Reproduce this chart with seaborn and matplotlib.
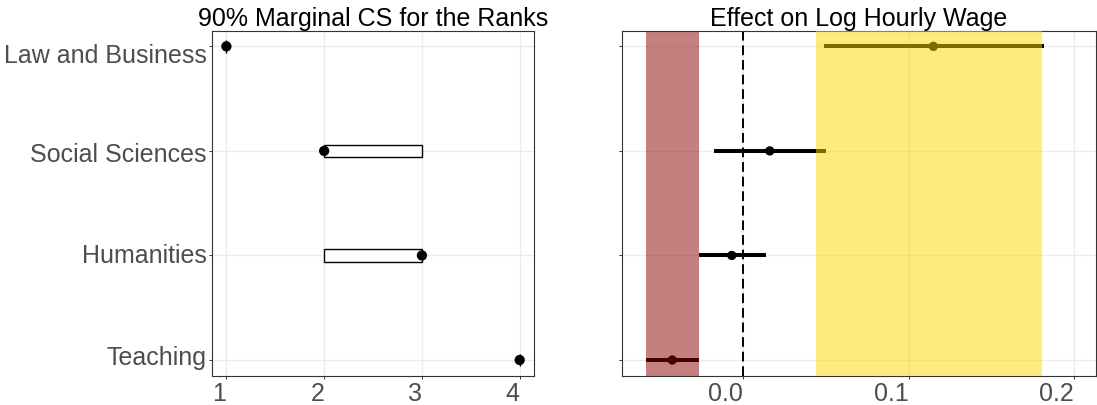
import matplotlib
matplotlib.use("Agg")
import matplotlib.pyplot as plt
import matplotlib.transforms as mtransforms
import pandas as pd
import seaborn as sns

# Fields, top to bottom
fields = ["Law and Business", "Social Sciences", "Humanities", "Teaching"]

# Estimated rank and 90% marginal confidence set for the rank
rank_point = [1, 2, 3, 4]
rank_lower = [1, 2, 2, 4]
rank_upper = [1, 3, 3, 4]

# Estimated effect on log hourly wage with its confidence interval
effect = [0.115, 0.016, -0.007, -0.043]
effect_lower = [0.049, -0.018, -0.027, -0.059]
effect_upper = [0.182, 0.050, 0.014, -0.027]

# Shaded regions: lowest-ranked and highest-ranked sets
bottom_band = [-0.059, -0.027]
top_band = [0.044, 0.181]

rank_ticks = [1, 2, 3, 4]
effect_ticks = [0.0, 0.1, 0.2]
effect_tick_labels = ["0.0", "0.1", "0.2"]

sns.set_theme(style="whitegrid")
plt.rcParams["font.family"] = ["Liberation Sans", "DejaVu Sans"]

df = pd.DataFrame({
    "field": fields,
    "row": list(range(len(fields), 0, -1)),
    "rank": rank_point,
    "rank_lo": rank_lower,
    "rank_hi": rank_upper,
    "effect": effect,
    "lo": effect_lower,
    "hi": effect_upper,
})

GRID = "#EBEBEB"
FRAME = "#333333"
TICKTXT = "#4D4D4D"
FS = 18

fig = plt.figure(figsize=(10.97, 4.06), dpi=100)
ax_l = fig.add_axes([0.193, 0.0722, 0.2941, 0.8498])
ax_r = fig.add_axes([0.5667, 0.0722, 0.4324, 0.8498])


def style_axes(ax):
    ax.set_facecolor("white")
    ax.grid(True, color=GRID, lw=1.0)
    ax.set_axisbelow(True)
    for s in ax.spines.values():
        s.set_visible(True)
        s.set_color(FRAME)
        s.set_linewidth(0.8)
    ax.tick_params(axis="both", which="major", length=2.2, width=0.7,
                   color=FRAME, labelcolor=TICKTXT, labelsize=FS,
                   bottom=True, left=True, pad=1.5)
    ax.set_xlabel("")
    ax.set_ylabel("")


# ---- left panel: rank confidence sets ----
ax_l.barh(df["row"], df["rank_hi"] - df["rank_lo"], left=df["rank_lo"],
          height=0.12, color="white", edgecolor="black", linewidth=1.0,
          zorder=2)
sns.scatterplot(data=df, x="rank", y="row", color="black", s=55,
                edgecolor="none", ax=ax_l, zorder=3, legend=False)
style_axes(ax_l)
ax_l.set_xlim(0.85, 4.15)
ax_l.set_ylim(0.85, 4.15)
ax_l.set_xticks(rank_ticks)
ax_l.set_xticklabels([str(t) for t in rank_ticks], ha="right")
ax_l.set_yticks(df["row"][::-1].tolist())
ax_l.set_yticklabels(df["field"][::-1].tolist())
ax_l.set_title("90% Marginal CS for the Ranks", fontsize=FS, color="black",
               pad=4)

# small vertical nudges of the field labels (bottom to top), in pixels
nudges = [5.8, 2.5, -1.0, -6.0]
for lab, dy in zip(ax_l.get_yticklabels(), nudges):
    lab.set_transform(lab.get_transform() +
                      mtransforms.ScaledTranslation(0, dy / 100, fig.dpi_scale_trans))

# ---- right panel: effects on log hourly wage ----
ax_r.hlines(df["row"], df["lo"], df["hi"], color="black", lw=2.9,
            capstyle="butt", zorder=2)
sns.scatterplot(data=df, x="effect", y="row", color="black", s=45,
                edgecolor="none", ax=ax_r, zorder=3, legend=False)
ax_r.axvline(0.0, color="black", lw=1.4, ls=(0, (5, 2.5)), zorder=2)
ax_r.axvspan(*bottom_band, color="#8B0000", alpha=0.5, lw=0, zorder=4)
ax_r.axvspan(*top_band, color="#FFD700", alpha=0.5, lw=0, zorder=4)
style_axes(ax_r)
ax_r.set_xlim(-0.0736, 0.2134)
ax_r.set_ylim(0.85, 4.15)
ax_r.set_xticks(effect_ticks)
ax_r.set_xticklabels(effect_tick_labels, ha="right")
ax_r.set_yticks(df["row"][::-1].tolist())
ax_r.set_yticklabels([])
ax_r.set_title("Effect on Log Hourly Wage", fontsize=FS, color="black", pad=4)

fig.savefig("out.png", dpi=100)
